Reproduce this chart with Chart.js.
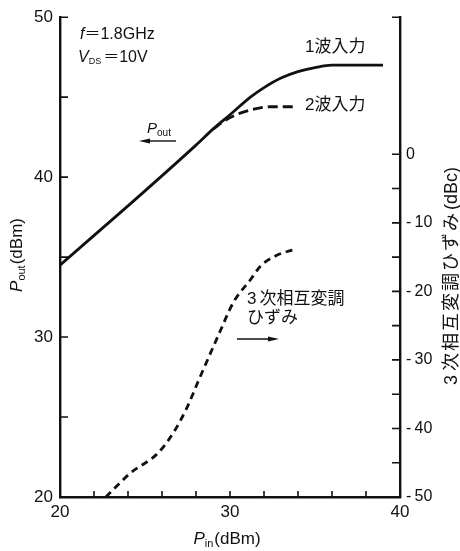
<!DOCTYPE html>
<html>
<head>
<meta charset="utf-8">
<script src="https://cdn.jsdelivr.net/npm/chart.js@4"></script>
<style>
  body { margin: 0; background: #fff; }
  #wrap { width: 460px; height: 551px; }
</style>
</head>
<body>
<div id="wrap"><canvas id="chart" width="460" height="551"></canvas></div>
<script>
// DATA
let pinSingle  = [20, 24, 28, 29, 30, 31.2, 32, 33, 34, 35, 36, 39];
let poutSingle = [34.5, 38.2, 42.0, 43.0, 43.9, 45.0, 45.6, 46.2, 46.6, 46.85, 47.0, 47.0];

let pinTwo  = [29, 29.8, 30.6, 31.4, 32.4, 33.7];
let poutTwo = [43.0, 43.6, 44.0, 44.25, 44.4, 44.4];

let pinImd = [22.7, 24.1, 25.8, 26.7, 27.5, 28.1, 29.3, 30.2, 31.2, 31.8, 32.7, 33.9];
let imd3   = [-50, -46.6, -43.5, -40.5, -36.8, -33.3, -26.5, -21.6, -18.3, -16.3, -14.8, -13.8];

let xLabels     = [20, 30, 40];
let leftLabels  = [20, 30, 40, 50];
let rightLabels = [0, -10, -20, -30, -40, -50];

let xMarks     = [22, 24, 26, 28, 30, 32, 34, 36, 38];
let leftMarks  = [25, 30, 35, 40, 45, 50];
let rightMarks = [-45, -40, -35, -30, -25, -20, -15, -10, -5, 0, 20];

const INK = "#111";
const LATIN = "'Liberation Sans', 'Noto Sans CJK JP', sans-serif";

function pts(xs, ys) {
  return xs.map((x, i) => ({ x: x, y: ys[i] }));
}

// draw a row of text pieces (italic, subscripts, spacing...)
function rich(c, parts, x, y, align) {
  let w = 0;
  parts.forEach(p => {
    c.font = p.f;
    c.letterSpacing = p.ls || "0px";
    w += c.measureText(p.t).width + (p.gap || 0);
  });
  let cx = align === "center" ? x - w / 2 : x;
  parts.forEach(p => {
    c.font = p.f;
    c.letterSpacing = p.ls || "0px";
    c.fillText(p.t, cx, y + (p.dy || 0));
    cx += c.measureText(p.t).width + (p.gap || 0);
  });
  c.letterSpacing = "0px";
}

function arrow(c, x1, x2, y) {
  let dir = x2 > x1 ? 1 : -1;
  c.strokeStyle = INK;
  c.lineWidth = 1.4;
  c.beginPath();
  c.moveTo(x1, y);
  c.lineTo(x2 - dir * 8, y);
  c.stroke();
  c.fillStyle = INK;
  c.beginPath();
  c.moveTo(x2, y);
  c.lineTo(x2 - dir * 11, y - 2.5);
  c.lineTo(x2 - dir * 11, y + 2.5);
  c.closePath();
  c.fill();
}

// tick marks (inward) + titles + notes
const decor = {
  id: "decor",
  afterDraw(chart) {
    let c = chart.ctx;
    let sx = chart.scales.x, sy = chart.scales.y, sr = chart.scales.y2;
    let a = chart.chartArea;
    c.save();
    c.strokeStyle = INK;
    c.lineWidth = 1.6;
    c.beginPath();
    xMarks.forEach(v => { let p = sx.getPixelForValue(v); c.moveTo(p, a.bottom); c.lineTo(p, a.bottom - 6); });
    leftMarks.forEach(v => { let p = sy.getPixelForValue(v); c.moveTo(a.left, p); c.lineTo(a.left + 8, p); });
    rightMarks.forEach(v => { let p = sr.getPixelForValue(v); c.moveTo(a.right, p); c.lineTo(a.right - 8, p); });
    c.stroke();

    c.fillStyle = INK;
    c.textBaseline = "alphabetic";

    // x title
    rich(c, [
      { t: "P", f: "italic 17px " + LATIN },
      { t: "in", f: "11px " + LATIN, dy: 3, gap: 1 },
      { t: "(dBm)", f: "17px " + LATIN }
    ], 227, 544, "center");

    // left title
    c.save();
    c.translate(22, 255);
    c.rotate(-Math.PI / 2);
    rich(c, [
      { t: "P", f: "italic 17px " + LATIN },
      { t: "out", f: "11px " + LATIN, dy: 3, gap: 1 },
      { t: "(dBm)", f: "17px " + LATIN }
    ], 0, 0, "center");
    c.restore();

    // right title
    c.save();
    c.translate(457, 276);
    c.rotate(-Math.PI / 2);
    rich(c, [
      { t: "3", f: "18px " + LATIN, gap: 4 },
      { t: "次相互変調ひずみ", f: "18px " + LATIN, ls: "2px", gap: 1 },
      { t: "(dBc)", f: "18px " + LATIN }
    ], 0, 0, "center");
    c.restore();

    // conditions
    rich(c, [
      { t: "f", f: "italic 16px " + LATIN },
      { t: "＝", f: "16px " + LATIN },
      { t: "1.8GHz", f: "16px " + LATIN }
    ], 80, 39);
    rich(c, [
      { t: "V", f: "italic 16px " + LATIN },
      { t: "DS", f: "9px " + LATIN, dy: 2, gap: 2 },
      { t: "＝", f: "16px " + LATIN },
      { t: "10V", f: "16px " + LATIN }
    ], 78, 62);

    // Pout arrow
    rich(c, [
      { t: "P", f: "italic 15px " + LATIN },
      { t: "out", f: "10px " + LATIN, dy: 3 }
    ], 147, 133);
    arrow(c, 176, 139, 141);

    // series labels
    c.font = "17px " + LATIN;
    c.fillText("1波入力", 305, 52);
    c.fillText("2波入力", 305, 110);
    rich(c, [
      { t: "3", f: "17px " + LATIN, gap: 3 },
      { t: "次相互変調", f: "17px " + LATIN }
    ], 247, 304);
    c.fillText("ひずみ", 247, 323);
    arrow(c, 237, 279, 339);
    c.restore();
  }
};

let ctx = document.getElementById("chart").getContext("2d");
let chart = new Chart(ctx, {
  type: "line",
  data: {
    datasets: [
      {
        label: "1波入力",
        data: pts(pinSingle, poutSingle),
        yAxisID: "y",
        borderColor: INK,
        borderWidth: 2.8,
        pointRadius: 0,
        cubicInterpolationMode: "monotone"
      },
      {
        label: "2波入力",
        data: pts(pinTwo, poutTwo),
        yAxisID: "y",
        borderColor: INK,
        borderWidth: 2.8,
        borderDash: [10, 5],
        pointRadius: 0,
        cubicInterpolationMode: "monotone"
      },
      {
        label: "3次相互変調ひずみ",
        data: pts(pinImd, imd3),
        yAxisID: "y2",
        borderColor: INK,
        borderWidth: 2.8,
        borderDash: [7, 5],
        pointRadius: 0,
        cubicInterpolationMode: "monotone"
      }
    ]
  },
  options: {
    responsive: false,
    animation: false,
    layout: { padding: { top: 15, left: 0, right: 0, bottom: 0 } },
    plugins: { legend: { display: false }, tooltip: { enabled: false } },
    scales: {
      x: {
        type: "linear",
        min: 20, max: 40,
        afterBuildTicks: s => { s.ticks = xLabels.map(v => ({ value: v })); },
        grid: { display: false, drawTicks: false },
        border: { display: true, color: INK, width: 2.4 },
        ticks: { color: INK, padding: 5, maxRotation: 0, font: { family: "Liberation Sans", size: 17 } },
        afterFit: s => { s.height = 54; }
      },
      y: {
        position: "left",
        min: 20, max: 50,
        afterBuildTicks: s => { s.ticks = leftLabels.map(v => ({ value: v })); },
        grid: { display: false, drawTicks: false },
        border: { display: true, color: INK, width: 2.4 },
        ticks: { color: INK, padding: 7, font: { family: "Liberation Sans", size: 17 } },
        afterFit: s => { s.width = 60; }
      },
      y2: {
        position: "right",
        min: -50, max: 20,
        afterBuildTicks: s => { s.ticks = rightLabels.map(v => ({ value: v })); },
        grid: { display: false, drawTicks: false },
        border: { display: true, color: INK, width: 2.4 },
        ticks: {
          color: INK, padding: 6,
          font: { family: "Liberation Sans", size: 16 },
          callback: v => v < 0 ? "-\u2009" + Math.abs(v) : String(v)
        },
        afterFit: s => { s.width = 60; }
      }
    }
  },
  plugins: [decor]
});
</script>
</body>
</html>
